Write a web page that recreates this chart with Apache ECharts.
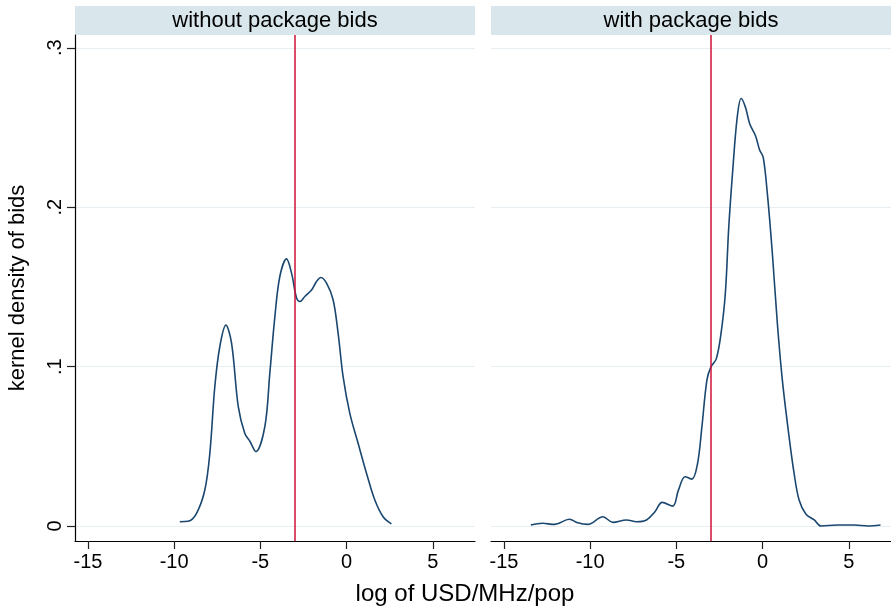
<!DOCTYPE html>
<html>
<head>
<meta charset="utf-8">
<script src="https://cdn.jsdelivr.net/npm/echarts@6/dist/echarts.min.js"></script>
<style>
  html, body { margin: 0; padding: 0; background: #fff; }
  #chart { width: 891px; height: 612px; }
</style>
</head>
<body>
<div id="chart"></div>
<script>
// kernel density, without package bids (x = log USD/MHz/pop, y = density)
var withoutX = [-9.67, -9.19, -8.7, -8.22, -7.93, -7.64, -7.35, -7.0, -6.67, -6.28, -5.9, -5.6, -5.26, -4.74, -4.45, -4.16, -3.87, -3.48, -3.19, -2.9, -2.71, -2.42, -2.03, -1.74, -1.49, -1.16, -0.78, -0.49, -0.2, 0.19, 0.67, 1.16, 1.64, 2.12, 2.6];
var withoutY = [0.0027, 0.003, 0.008, 0.0226, 0.0456, 0.0875, 0.1126, 0.126, 0.1147, 0.0749, 0.058, 0.053, 0.0467, 0.0623, 0.0959, 0.131, 0.1565, 0.1676, 0.1586, 0.143, 0.1408, 0.144, 0.148, 0.1534, 0.1559, 0.1523, 0.1419, 0.121, 0.0937, 0.0707, 0.0519, 0.033, 0.0163, 0.0058, 0.0013];

// kernel density, with package bids
var withX = [-13.44, -12.76, -12.08, -11.2, -10.72, -10.14, -9.26, -8.68, -7.9, -7.31, -6.73, -6.24, -5.82, -5.21, -4.88, -4.49, -4.1, -3.77, -3.52, -3.23, -3.0, -2.68, -2.41, -2.16, -1.96, -1.73, -1.47, -1.24, -0.99, -0.74, -0.41, -0.17, 0.04, 0.28, 0.57, 0.86, 1.15, 1.54, 1.83, 2.12, 2.51, 3.0, 3.39, 4.36, 5.33, 6.1, 6.84];
var withY = [0.0006, 0.0017, 0.001, 0.0042, 0.002, 0.001, 0.0058, 0.0023, 0.0038, 0.0027, 0.0038, 0.009, 0.0148, 0.0125, 0.0225, 0.0309, 0.0294, 0.0392, 0.062, 0.0914, 0.0997, 0.105, 0.1207, 0.1457, 0.1874, 0.2229, 0.2563, 0.2682, 0.2626, 0.2522, 0.2448, 0.2359, 0.2312, 0.2083, 0.1708, 0.1269, 0.0914, 0.0559, 0.033, 0.0163, 0.0075, 0.0038, 0.0, 0.0006, 0.0006, 0.0, 0.0006];

var panelTitles = ['without package bids', 'with package bids'];
var xTicks = [-15, -10, -5, 0, 5];
var yTicks = [0, 0.1, 0.2, 0.3];
var refLine = -3;

function pairs(xs, ys) {
    var out = [];
    for (var i = 0; i < xs.length; i++) {
        out.push([xs[i], ys[i]]);
    }
    return out;
}

var font = 'Liberation Sans, Arial, sans-serif';
var navy = '#1a476f';
var red = '#d0103a';
var gridColor = '#e8eff2';

var chart = echarts.init(document.getElementById('chart'), null, { renderer: 'canvas' });

function xAxisFor(idx) {
    return {
        type: 'value',
        gridIndex: idx,
        position: 'bottom',
        min: -15.75,
        max: 7.45,
        axisLine: { show: true, onZero: false, lineStyle: { color: '#000', width: 1.2 } },
        axisTick: { show: true, length: 8, customValues: xTicks, lineStyle: { color: '#222', width: 1.2 } },
        axisLabel: { customValues: xTicks, color: '#000', fontSize: 20, fontFamily: font, margin: 11 },
        splitLine: { show: false }
    };
}

function yAxisFor(idx) {
    var first = idx === 0;
    return {
        type: 'value',
        gridIndex: idx,
        position: 'left',
        min: -0.0094,
        max: 0.308,
        axisLine: { show: first, onZero: false, lineStyle: { color: '#000', width: 1.2 } },
        axisTick: { show: first, length: 8, customValues: yTicks, lineStyle: { color: '#222', width: 1.2 } },
        axisLabel: {
            show: first,
            customValues: yTicks,
            rotate: 90,
            color: '#000',
            fontSize: 20,
            fontFamily: font,
            margin: 10,
            formatter: function (v) {
                if (Math.abs(v) < 1e-9) return '0';
                return '.' + Math.round(v * 10);
            }
        },
        splitLine: { show: true, lineStyle: { color: gridColor, width: 1.2 } },
        name: first ? 'kernel density of bids' : '',
        nameLocation: 'middle',
        nameGap: 46,
        nameTextStyle: { color: '#000', fontSize: 22, fontFamily: font }
    };
}

function curve(idx, xs, ys) {
    return {
        type: 'line',
        xAxisIndex: idx,
        yAxisIndex: idx,
        data: pairs(xs, ys),
        smooth: 0.35,
        showSymbol: false,
        lineStyle: { color: navy, width: 1.6 },
        markLine: {
            silent: true,
            symbol: ['none', 'none'],
            label: { show: false },
            lineStyle: { color: red, width: 1.5, type: 'solid' },
            data: [{ xAxis: refLine }]
        },
        z: 3
    };
}

var strips = [];
[75, 491].forEach(function (left, i) {
    strips.push({
        type: 'rect',
        shape: { x: left, y: 6, width: 400, height: 29 },
        style: { fill: '#d9e6eb' }
    });
    strips.push({
        type: 'text',
        x: left + 200,
        y: 20.5,
        style: {
            text: panelTitles[i],
            fill: '#000',
            font: '22px ' + font,
            align: 'center',
            verticalAlign: 'middle'
        }
    });
});
strips.push({
    type: 'text',
    x: 465,
    y: 594,
    style: {
        text: 'log of USD/MHz/pop',
        fill: '#000',
        font: '24px ' + font,
        align: 'center',
        verticalAlign: 'middle'
    }
});

chart.setOption({
    backgroundColor: '#fff',
    animation: false,
    grid: [
        { left: 75, top: 35, width: 400, height: 506 },
        { left: 491, top: 35, width: 400, height: 506 }
    ],
    xAxis: [xAxisFor(0), xAxisFor(1)],
    yAxis: [yAxisFor(0), yAxisFor(1)],
    series: [curve(0, withoutX, withoutY), curve(1, withX, withY)],
    graphic: strips
});
</script>
</body>
</html>
